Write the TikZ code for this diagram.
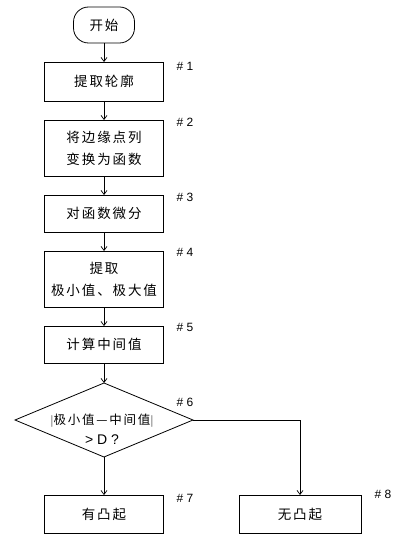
\documentclass[tikz,border=0pt]{standalone}
\usepackage{fontspec}
\setmainfont{Liberation Sans}
\newfontfamily\cjk[LetterSpace=14]{Noto Sans CJK SC}
\usetikzlibrary{arrows.meta,shapes.geometric}
\begin{document}
\begin{tikzpicture}[x=1pt,y=-1pt,
  every node/.style={inner sep=0pt,outer sep=0pt},
  stepbox/.style={draw,line width=0.8pt,minimum width=119pt,align=center,font=\cjk\fontsize{13.5}{22}\selectfont},
  term/.style={draw,line width=0.8pt,rounded corners=15pt,minimum width=61pt,minimum height=36pt,font=\cjk\fontsize{13.5}{16}\selectfont},
  lbl/.style={font=\fontsize{12}{14}\selectfont},
  conn/.style={draw,line width=0.7pt,-{Straight Barb[length=4pt,width=6pt]}}]
\useasboundingbox (0,0) rectangle (400,540);
\node[term] (s) at (104,25) {开始};
\node[stepbox,minimum height=39pt] (b1) at (104,81.5) {提取轮廓};
\node[stepbox,minimum height=56pt] (b2) at (104,148) {将边缘点列\\变换为函数};
\node[stepbox,minimum height=37pt] (b3) at (104,213.5) {对函数微分};
\node[stepbox,minimum height=56pt] (b4) at (104,279) {提取\\极小值、极大值};
\node[stepbox,minimum height=37pt] (b5) at (104,344.5) {计算中间值};
\node[draw,line width=0.8pt,diamond,minimum width=178pt,minimum height=74pt] (d) at (104,420) {};
\node[align=center] (dt) at (102,429) {{\cjk\fontsize{12.5}{14}\selectfont$\bigl|$极小值—中间值$\bigr|$}\\[6pt]{\fontsize{14}{15}\selectfont > D ?}};
\node[stepbox,minimum height=38pt] (b7) at (104,514) {有凸起};
\node[stepbox,minimum width=122pt,minimum height=38pt] (b8) at (300,514) {无凸起};
\node[lbl] (l1) at (185,66) {\# 1};
\node[lbl] (l2) at (185,122) {\# 2};
\node[lbl] (l3) at (185,197) {\# 3};
\node[lbl] (l4) at (185,252) {\# 4};
\node[lbl] (l5) at (185,327) {\# 5};
\node[lbl] (l6) at (185,402) {\# 6};
\node[lbl] (l7) at (185,498) {\# 7};
\node[lbl] (l8) at (383,494) {\# 8};
\draw[conn] (s) -- (b1);
\draw[conn] (b1) -- (b2);
\draw[conn] (b2) -- (b3);
\draw[conn] (b3) -- (b4);
\draw[conn] (b4) -- (b5);
\draw[conn] (b5) -- (d);
\draw[conn] (d.south) -- (b7.north);
\draw[conn] (d.east) -| (b8.north);
\end{tikzpicture}
\end{document}
